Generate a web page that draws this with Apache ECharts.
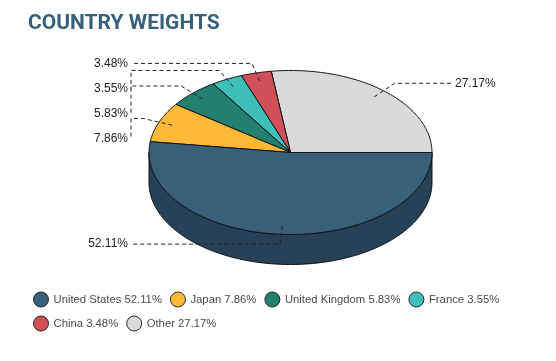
<!DOCTYPE html>
<html><head><meta charset="utf-8">
<script src="https://cdn.jsdelivr.net/npm/echarts@6/dist/echarts.min.js"></script>
<style>html,body{margin:0;padding:0;background:#fff}#c{width:556px;height:361px}</style>
</head><body><div id="c"></div>
<script>
// ---- data ----
const categories = ['Other', 'China', 'France', 'United Kingdom', 'Japan', 'United States'];
const values = [27.17, 3.48, 3.55, 5.83, 7.86, 52.11];
const legendOrder = ['United States', 'Japan', 'United Kingdom', 'France', 'China', 'Other'];

// ---- styles / layout ----
const topColors = {
  'Other': '#dadada', 'China': '#d0505a', 'France': '#3fbfb9',
  'United Kingdom': '#23806f', 'Japan': '#ffb937', 'United States': '#386079'
};
const sideColors = {
  'Other': '#a8a8a8', 'China': '#9c3c44', 'France': '#2f8f8b',
  'United Kingdom': '#1a6053', 'Japan': '#c08b29', 'United States': '#274156'
};
const CX = 290.5, CY = 152.5, RX = 141.5, RY = 82, DEPTH = 30;
const LEFT_EDGE = 131, RIGHT_EDGE = 451, LABEL_GAP = 25;

const total = values.reduce((a, b) => a + b, 0);
const starts = [], ends = [];
let acc = 0;
values.forEach(v => { starts.push(acc / total * 360); acc += v; ends.push(acc / total * 360); });

function pt(deg, r, dy) {
  const t = deg * Math.PI / 180;
  return [CX + RX * r * Math.cos(t), CY - RY * r * Math.sin(t) + (dy || 0)];
}
function arc(a0, a1, dy) {
  const pts = [];
  const n = Math.max(2, Math.ceil(Math.abs(a1 - a0)));
  for (let k = 0; k <= n; k++) pts.push(pt(a0 + (a1 - a0) * k / n, 1, dy));
  return pts;
}

// label layout
const labels = values.map((v, i) => {
  const mid = (starts[i] + ends[i]) / 2;
  const anchor = pt(mid, 0.9);
  const elbow = pt(mid, 1.12);
  const left = Math.cos(mid * Math.PI / 180) < 0;
  return { i, mid, anchor, elbow, left, y: elbow[1] };
});
['L', 'R'].forEach(side => {
  const arr = labels.filter(l => (side === 'L') === l.left).sort((a, b) => a.elbow[1] - b.elbow[1]);
  let prev = -1e9;
  arr.forEach(l => { l.y = Math.max(l.elbow[1], prev + LABEL_GAP); prev = l.y; });
});

function makeRender(i) {
  return function (params, api) {
    const name = categories[i];
    const a0 = starts[i], a1 = ends[i];
    const children = [];
    const s0 = Math.max(a0, 180), s1 = Math.min(a1, 360);
    if (s1 > s0) {
      const pts = arc(s0, s1, 0).concat(arc(s1, s0, DEPTH));
      children.push({ type: 'polygon', shape: { points: pts },
        style: { fill: sideColors[name], stroke: '#111', lineWidth: 1 } });
    }
    const topPts = [[CX, CY]].concat(arc(a0, a1, 0));
    children.push({ type: 'polygon', shape: { points: topPts },
      style: { fill: topColors[name], stroke: '#111', lineWidth: 1, lineJoin: 'round' } });
    const l = labels[i];
    const ex = l.left ? LEFT_EDGE : RIGHT_EDGE;
    children.push({ type: 'polyline', shape: { points: [l.anchor, l.elbow, [ex, l.elbow[1]], [ex, l.y]] },
      style: { stroke: '#222', lineWidth: 1, lineDash: [4, 3], fill: null } });
    children.push({ type: 'text', style: {
      text: values[i].toFixed(2) + '%', x: l.left ? ex - 3 : ex + 4, y: l.y,
      align: l.left ? 'right' : 'left', verticalAlign: 'middle',
      fill: '#222', font: '12px "Liberation Sans", Arial, sans-serif' } });
    return { type: 'group', children };
  };
}

const series = categories.map((c, i) => ({
  type: 'custom', name: c, coordinateSystem: 'none', silent: true,
  itemStyle: { color: topColors[c] },
  data: [[values[i]]],
  renderItem: makeRender(i)
}));

const chart = echarts.init(document.getElementById('c'), null, { renderer: 'canvas' });
chart.setOption({
  animation: false,
  color: categories.map(c => topColors[c]),
  title: { text: 'COUNTRY WEIGHTS', left: 23, top: 8,
    textStyle: { fontFamily: 'Roboto', fontWeight: 'bold', fontSize: 21, color: '#365f7a' } },
  legend: {
    left: 28, top: 286.5, width: 510, itemWidth: 15, itemHeight: 15, itemGap: 8,
    icon: 'circle', data: legendOrder, selectedMode: false,
    itemStyle: { borderColor: '#222', borderWidth: 1 },
    textStyle: { fontSize: 11.3, color: '#4a4a4a', fontFamily: '"Liberation Sans", Arial, sans-serif' },
    formatter: n => n + ' ' + values[categories.indexOf(n)].toFixed(2) + '%'
  },
  series
});
</script></body></html>
